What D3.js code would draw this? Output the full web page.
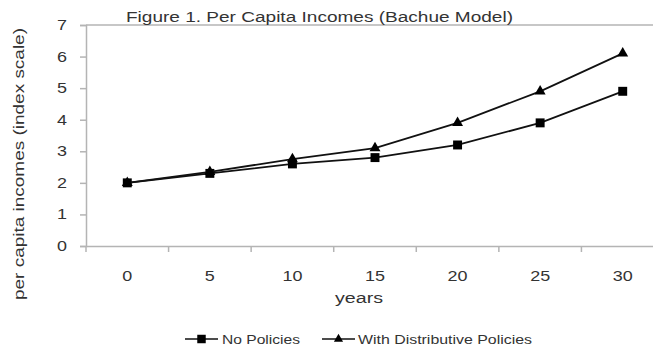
<!DOCTYPE html>
<html>
<head>
<meta charset="utf-8">
<script src="https://cdn.jsdelivr.net/npm/d3@7"></script>
<style>
  html, body { margin: 0; padding: 0; background: #fff; }
  svg { display: block; }
  text { font-family: "Liberation Sans", Arial, sans-serif; fill: #333; }
</style>
</head>
<body>
<svg id="chart" width="653" height="351"></svg>
<script>
// Simulation years and per capita income index for each scenario
const years = [0, 5, 10, 15, 20, 25, 30];
const noPolicies = [2.0, 2.3, 2.6, 2.8, 3.2, 3.9, 4.9];
const withDistributive = [2.0, 2.35, 2.75, 3.1, 3.9, 4.9, 6.1];
const yTicks = [0, 1, 2, 3, 4, 5, 6, 7];

const seriesNames = ["No Policies", "With Distributive Policies"];
const seriesValues = [noPolicies, withDistributive];
const seriesSymbols = [d3.symbolSquare, d3.symbolTriangle];
const symbolSizes = [80, 52];

const svg = d3.select("#chart");
const margin = { left: 86, top: 25, bottom: 246, right: 664 };
const axisColor = "#b4b4b4";

const x = d3.scaleBand().domain(years).range([margin.left, margin.right]);
const y = d3.scaleLinear().domain([0, 7]).range([margin.bottom, margin.top]);

// widen the digit glyphs a little, one digit ≈ 10px
const stretchDigits = sel => sel
  .attr("font-size", 14)
  .attr("fill", "#333")
  .attr("font-family", "Liberation Sans, Arial, sans-serif")
  .attr("textLength", function () { return this.textContent.length * 10; })
  .attr("lengthAdjust", "spacingAndGlyphs");

// top frame line of the plot area
svg.append("line")
  .attr("x1", margin.left).attr("x2", margin.right)
  .attr("y1", margin.top).attr("y2", margin.top)
  .attr("stroke", axisColor).attr("stroke-width", 1.5);

// y axis
const yAxis = svg.append("g")
  .attr("transform", `translate(${margin.left},0)`)
  .call(d3.axisLeft(y).tickValues(yTicks).tickSize(6).tickPadding(13).tickFormat(d3.format("d")));
yAxis.select(".domain").attr("stroke", axisColor).attr("stroke-width", 1.5);
yAxis.selectAll(".tick line").attr("stroke", axisColor).attr("stroke-width", 1.5);
yAxis.selectAll(".tick text").call(stretchDigits);

// x axis: category axis with ticks between categories
const xAxis = svg.append("g")
  .attr("transform", `translate(0,${margin.bottom})`)
  .call(d3.axisBottom(x).tickSize(0).tickPadding(25));
xAxis.select(".domain").attr("stroke", axisColor).attr("stroke-width", 1.5);
xAxis.selectAll(".tick text").call(stretchDigits);
xAxis.selectAll(".boundary")
  .data(years)
  .join("line")
  .attr("x1", d => x(d)).attr("x2", d => x(d))
  .attr("y1", 0).attr("y2", 6)
  .attr("stroke", axisColor).attr("stroke-width", 1.5);

// title
svg.append("text")
  .attr("x", 126).attr("y", 22)
  .attr("font-size", 14)
  .attr("textLength", 387).attr("lengthAdjust", "spacingAndGlyphs")
  .text("Figure 1. Per Capita Incomes (Bachue Model)");

// axis titles
svg.append("text")
  .attr("transform", "translate(24,164) rotate(-90)")
  .attr("text-anchor", "middle")
  .attr("font-size", 15)
  .attr("textLength", 272).attr("lengthAdjust", "spacingAndGlyphs")
  .text("per capita incomes (index scale)");

svg.append("text")
  .attr("x", 359).attr("y", 303)
  .attr("text-anchor", "middle")
  .attr("font-size", 14)
  .attr("textLength", 48).attr("lengthAdjust", "spacingAndGlyphs")
  .text("years");

// series lines and markers
const line = d3.line()
  .x((d, i) => x(years[i]) + x.bandwidth() / 2)
  .y(d => y(d));

seriesValues.forEach((vals, s) => {
  svg.append("path")
    .datum(vals)
    .attr("d", line)
    .attr("fill", "none")
    .attr("stroke", "#111")
    .attr("stroke-width", 1.8);
  svg.selectAll(".m" + s)
    .data(vals)
    .join("path")
    .attr("transform", (d, i) => `translate(${x(years[i]) + x.bandwidth() / 2},${y(d)})`)
    .attr("d", d3.symbol().type(seriesSymbols[s]).size(symbolSizes[s]))
    .attr("fill", "#000");
});

// legend
const legendItems = [
  { x0: 185, textX: 222, width: 78 },
  { x0: 322, textX: 358, width: 174 }
];
legendItems.forEach((it, s) => {
  const ly = 339;
  svg.append("line")
    .attr("x1", it.x0).attr("x2", it.x0 + 33)
    .attr("y1", ly).attr("y2", ly)
    .attr("stroke", "#111").attr("stroke-width", 1.3);
  svg.append("path")
    .attr("transform", `translate(${it.x0 + 16.5},${ly})`)
    .attr("d", d3.symbol().type(seriesSymbols[s]).size(symbolSizes[s] * (s ? 0.7 : 0.9)))
    .attr("fill", "#000");
  svg.append("text")
    .attr("x", it.textX).attr("y", ly + 5)
    .attr("font-size", 13)
    .attr("textLength", it.width).attr("lengthAdjust", "spacingAndGlyphs")
    .text(seriesNames[s]);
});
</script>
</body>
</html>
